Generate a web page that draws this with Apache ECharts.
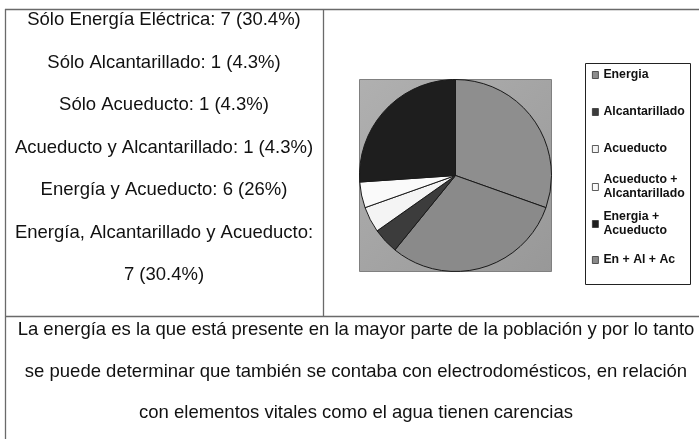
<!DOCTYPE html>
<html>
<head>
<meta charset="utf-8">
<script src="https://cdn.jsdelivr.net/npm/echarts@6/dist/echarts.min.js"></script>
<style>
html,body{margin:0;padding:0;background:#fff;}
#c{width:699px;height:439px;}
</style>
</head>
<body>
<div id="c"></div>
<script>
// ---- data ----
const categories = ['Energia', 'En + Al + Ac', 'Alcantarillado', 'Acueducto', 'Acueducto + Alcantarillado', 'Energia + Acueducto'];
const values = [7, 7, 1, 1, 1, 6];
const legendOrder = ['Energia', 'Alcantarillado', 'Acueducto', 'Acueducto + Alcantarillado', 'Energia + Acueducto', 'En + Al + Ac'];
const summaryNames = ['Sólo Energía Eléctrica', 'Sólo Alcantarillado', 'Sólo Acueducto', 'Acueducto y Alcantarillado', 'Energía y Acueducto', 'Energía, Alcantarillado y Acueducto'];
const summaryCounts = [7, 1, 1, 1, 6, 7];
const summaryPcts = ['30.4', '4.3', '4.3', '4.3', '26', '30.4'];
const conclusionLines = [
  'La energía es la que está presente en la mayor parte de la población y por lo tanto',
  'se puede determinar que también se contaba con electrodomésticos, en relación',
  'con elementos vitales como el agua tienen carencias'
];

// ---- styles ----
const sliceColors = {
  'Energia': '#8e8e8e',
  'En + Al + Ac': '#8a8a8a',
  'Alcantarillado': '#3c3c3c',
  'Acueducto': '#f4f4f4',
  'Acueducto + Alcantarillado': '#fafafa',
  'Energia + Acueducto': '#1e1e1e'
};
const FONT = '"Liberation Sans", Arial, sans-serif';
const lineColor = '#6a6a6a';

const chart = echarts.init(document.getElementById('c'), null, {renderer: 'canvas'});

// left column summary lines
const leftLines = [];
summaryNames.forEach((n, i) => {
  const tail = summaryCounts[i] + ' (' + summaryPcts[i] + '%)';
  if (i === summaryNames.length - 1) {
    leftLines.push(n + ':');
    leftLines.push(tail);
  } else {
    leftLines.push(n + ': ' + tail);
  }
});

const graphics = [];
// table lines
graphics.push({type: 'line', shape: {x1: 5, y1: 9.5, x2: 720, y2: 9.5}, style: {stroke: lineColor, lineWidth: 1.3}});
graphics.push({type: 'line', shape: {x1: 5.5, y1: 9, x2: 5.5, y2: 450}, style: {stroke: lineColor, lineWidth: 1.3}});
graphics.push({type: 'line', shape: {x1: 323.5, y1: 9, x2: 323.5, y2: 316}, style: {stroke: lineColor, lineWidth: 1.3}});
graphics.push({type: 'line', shape: {x1: 5, y1: 316.5, x2: 720, y2: 316.5}, style: {stroke: lineColor, lineWidth: 1.3}});

leftLines.forEach((t, i) => {
  graphics.push({type: 'text', x: 164, y: 20 + i * 42.5, style: {text: t, font: '18.5px ' + FONT, fill: '#111', align: 'center', verticalAlign: 'middle'}});
});
conclusionLines.forEach((t, i) => {
  graphics.push({type: 'text', x: 356, y: 330 + i * 41.5, style: {text: t, font: '18.5px ' + FONT, fill: '#111', align: 'center', verticalAlign: 'middle'}});
});

// plot area background
graphics.push({type: 'rect', z: 0, shape: {x: 359.5, y: 79.5, width: 192, height: 192},
  style: {stroke: '#808080', lineWidth: 1,
    fill: new echarts.graphic.LinearGradient(0, 0, 1, 1, [{offset: 0, color: '#b0b0b0'}, {offset: 1, color: '#989898'}])}});
// legend frame
graphics.push({type: 'rect', z: 0, shape: {x: 585.5, y: 63.5, width: 105, height: 221},
  style: {stroke: '#222', lineWidth: 1, fill: '#fff'}});

// legends: one per item to reproduce the uneven spacing
const legendTops = [68, 105, 142, 166, 203, 253];
const legends = legendOrder.map((name, i) => {
  const twoLine = name.indexOf(' + ') > 0 && name.length > 14;
  return {
    data: [name],
    orient: 'vertical',
    left: 592,
    top: legendTops[i],
    padding: 0,
    itemWidth: 6,
    itemHeight: 7,
    icon: 'rect',
    selectedMode: false,
    itemStyle: {borderColor: '#333', borderWidth: 0.8},
    formatter: function (n) {
      return twoLine ? n.replace(' + ', ' +\n') : n;
    },
    textStyle: {
      fontFamily: FONT, fontSize: 12.3, fontWeight: 'bold', color: '#111',
      lineHeight: 14, padding: twoLine ? [14, 0, 0, 0] : 0
    }
  };
});

chart.setOption({
  animation: false,
  graphic: {elements: graphics},
  legend: legends,
  series: [{
    type: 'pie',
    center: [455.5, 175.5],
    radius: 96,
    startAngle: 90,
    clockwise: true,
    z: 3,
    label: {show: false},
    labelLine: {show: false},
    emphasis: {disabled: true},
    itemStyle: {borderColor: '#1a1a1a', borderWidth: 1},
    data: categories.map((c, i) => ({name: c, value: values[i], itemStyle: {color: sliceColors[c]}}))
  }]
});
</script>
</body>
</html>
